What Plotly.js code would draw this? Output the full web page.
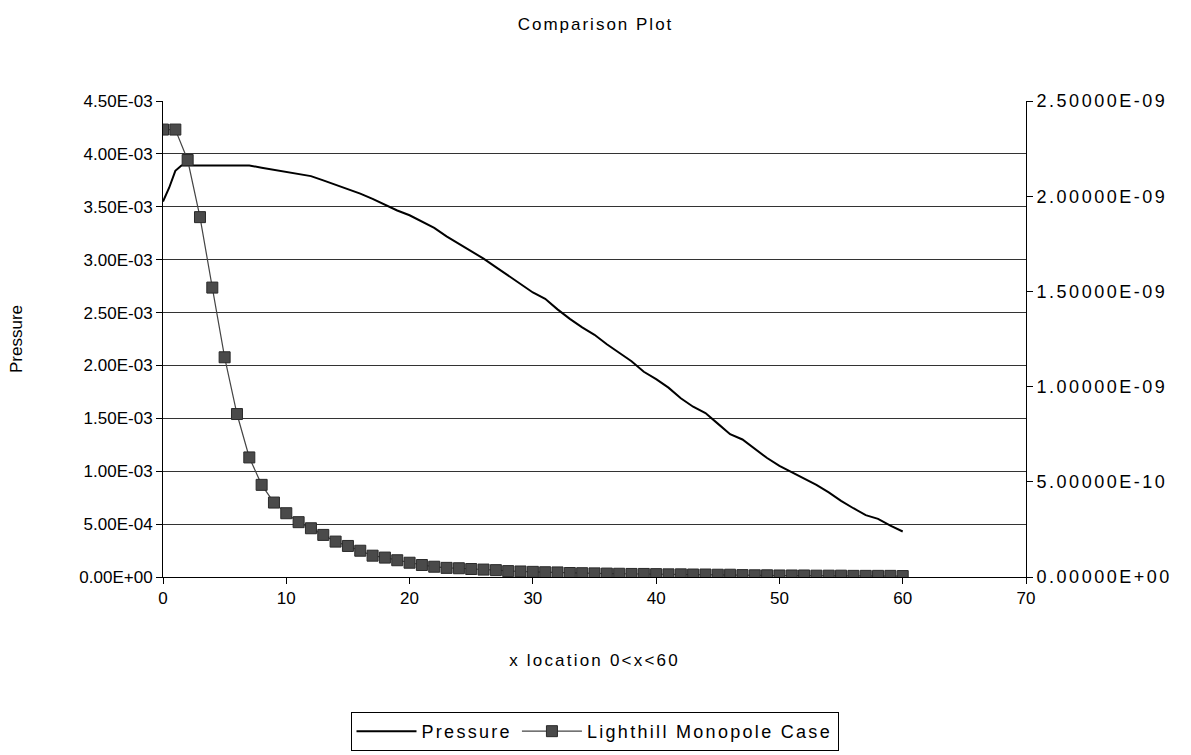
<!DOCTYPE html>
<html>
<head>
<meta charset="utf-8">
<script src="https://cdn.plot.ly/plotly-3.0.1.min.js"></script>
<style>
html,body{margin:0;padding:0;background:#fff;}
#chart{width:1191px;height:755px;}
.y2tick text{letter-spacing:2.5px;}
.legendtext{letter-spacing:2.3px;}
.gtitle{letter-spacing:2px;}
.xtitle{letter-spacing:2.2px;}
</style>
</head>
<body>
<div id="chart"></div>
<script>
// Pressure (left axis)
const pressureX = [0,0.5,1,1.5,2,3,4,5,6,7,8,9,10,11,12,13,14,15,16,17,18,19,20,21,22,23,24,25,26,27,28,29,30,31,32,33,34,35,36,37,38,39,40,41,42,43,44,45,46,47,48,49,50,51,52,53,54,55,56,57,58,59,60];
const pressureY = [3.55e-3,3.68e-3,3.84e-3,3.89e-3,3.89e-3,3.89e-3,3.89e-3,3.89e-3,3.89e-3,3.89e-3,3.87e-3,3.85e-3,3.835e-3,3.81e-3,3.79e-3,3.75e-3,3.71e-3,3.67e-3,3.625e-3,3.575e-3,3.52e-3,3.465e-3,3.42e-3,3.36e-3,3.30e-3,3.22e-3,3.15e-3,3.08e-3,3.01e-3,2.93e-3,2.85e-3,2.765e-3,2.69e-3,2.63e-3,2.53e-3,2.44e-3,2.36e-3,2.29e-3,2.20e-3,2.12e-3,2.04e-3,1.94e-3,1.87e-3,1.79e-3,1.69e-3,1.61e-3,1.55e-3,1.45e-3,1.35e-3,1.30e-3,1.21e-3,1.125e-3,1.05e-3,0.99e-3,0.93e-3,0.87e-3,0.80e-3,0.72e-3,0.65e-3,0.585e-3,0.55e-3,0.485e-3,0.43e-3];

// Lighthill Monopole Case (right axis)
const lighthillX = [0,1,2,3,4,5,6,7,8,9,10,11,12,13,14,15,16,17,18,19,20,21,22,23,24,25,26,27,28,29,30,31,32,33,34,35,36,37,38,39,40,41,42,43,44,45,46,47,48,49,50,51,52,53,54,55,56,57,58,59,60];
const lighthillY = [2.35e-9,2.35e-9,2.19e-9,1.89e-9,1.52e-9,1.154e-9,0.856e-9,0.628e-9,0.484e-9,0.391e-9,0.335e-9,0.288e-9,0.256e-9,0.221e-9,0.186e-9,0.163e-9,0.138e-9,0.112e-9,0.102e-9,0.088e-9,0.075e-9,0.063e-9,0.054e-9,0.048e-9,0.046e-9,0.042e-9,0.039e-9,0.036e-9,0.031e-9,0.029e-9,0.027e-9,0.025e-9,0.024e-9,0.021e-9,0.020e-9,0.019e-9,0.018e-9,0.017e-9,0.016e-9,0.016e-9,0.015e-9,0.014e-9,0.014e-9,0.013e-9,0.013e-9,0.012e-9,0.012e-9,0.010e-9,0.009e-9,0.009e-9,0.008e-9,0.008e-9,0.008e-9,0.007e-9,0.007e-9,0.007e-9,0.006e-9,0.006e-9,0.006e-9,0.006e-9,0.005e-9];

// Tick labels
const xTickVals = [0,10,20,30,40,50,60,70];
const leftTickVals = [0,0.5e-3,1e-3,1.5e-3,2e-3,2.5e-3,3e-3,3.5e-3,4e-3,4.5e-3];
const leftTickText = ["0.00E+00","5.00E-04","1.00E-03","1.50E-03","2.00E-03","2.50E-03","3.00E-03","3.50E-03","4.00E-03","4.50E-03"];
const rightTickVals = [0,0.5e-9,1e-9,1.5e-9,2e-9,2.5e-9];
const rightTickText = ["0.00000E+00","5.00000E-10","1.00000E-09","1.50000E-09","2.00000E-09","2.50000E-09"];

const FONT = "Liberation Sans, Arial, Helvetica, sans-serif";

const traces = [
  {
    x: pressureX, y: pressureY, name: "Pressure", type: "scatter", mode: "lines",
    line: {color: "#000000", width: 2}, yaxis: "y"
  },
  {
    x: lighthillX, y: lighthillY, name: "Lighthill Monopole Case", type: "scatter", mode: "lines+markers",
    line: {color: "#444444", width: 1.2},
    marker: {symbol: "square", size: 11, color: "#4a4a4a", line: {color: "#2a2a2a", width: 1}},
    yaxis: "y2"
  }
];

const layout = {
  width: 1191, height: 755,
  paper_bgcolor: "#ffffff", plot_bgcolor: "#ffffff",
  margin: {l: 163, r: 165, t: 101, b: 177.5},
  font: {family: FONT, size: 17, color: "#000000"},
  title: {text: "Comparison Plot", font: {family: FONT, size: 17, color: "#000"}, x: 0.5, xanchor: "center", y: 0.968, yanchor: "middle"},
  showlegend: true,
  legend: {
    orientation: "h", x: 0.5, xanchor: "center", xref: "paper",
    yref: "container", y: 0.057, yanchor: "top",
    bordercolor: "#000000", borderwidth: 1, bgcolor: "#ffffff",
    itemwidth: 60,
    font: {family: FONT, size: 18, color: "#000"}
  },
  xaxis: {
    range: [0, 70], tickvals: xTickVals, ticktext: xTickVals.map(String),
    showgrid: false, zeroline: false,
    showline: true, linecolor: "#000", linewidth: 1,
    ticks: "outside", ticklen: 6, tickcolor: "#000",
    tickfont: {family: FONT, size: 17},
    title: {text: "x location 0<x<60", font: {family: FONT, size: 17}, standoff: 46}
  },
  yaxis: {
    range: [0, 4.5e-3], tickvals: leftTickVals, ticktext: leftTickText,
    showgrid: true, gridcolor: "#333333", gridwidth: 1,
    zeroline: false, showline: true, linecolor: "#000", linewidth: 1,
    ticks: "outside", ticklen: 6, tickcolor: "#000",
    tickfont: {family: FONT, size: 17},
    title: {text: "Pressure", font: {family: FONT, size: 17}, standoff: 52}
  },
  yaxis2: {
    range: [0, 2.5e-9], tickvals: rightTickVals, ticktext: rightTickText,
    overlaying: "y", side: "right",
    showgrid: false, zeroline: false, showline: true, linecolor: "#000", linewidth: 1,
    ticks: "outside", ticklen: 6, tickcolor: "#000",
    tickfont: {family: FONT, size: 18}
  }
};

Plotly.newPlot("chart", traces, layout, {displayModeBar: false, staticPlot: true});
</script>
</body>
</html>
